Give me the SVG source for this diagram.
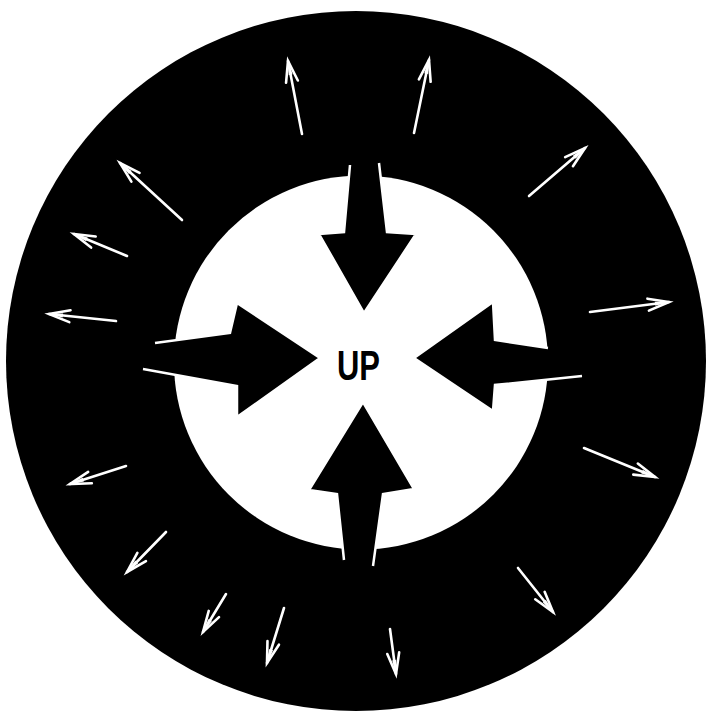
<svg xmlns="http://www.w3.org/2000/svg" width="712" height="713" viewBox="0 0 712 713">
<style>
.ring{fill:#000}
.hole{fill:#fff}
.big{fill:#000;stroke:#fff;stroke-width:2.5;stroke-linejoin:miter}
.small{stroke:#fff;stroke-width:2.6;stroke-linecap:round;fill:none;marker-end:url(#head)}
.label{font-family:"Liberation Sans",Arial,sans-serif;font-weight:bold;font-size:43px;fill:#000}
</style>
<defs>
<marker id="head" markerUnits="userSpaceOnUse" viewBox="-26 -13 30 26" markerWidth="30" markerHeight="26" refX="0" refY="0" orient="auto" overflow="visible">
<path d="M-21,-6 L0,0 L-21,6" fill="none" stroke="#fff" stroke-width="2.6" stroke-linejoin="miter" stroke-linecap="round"/>
<path d="M-14,-2 L0,0 L-14,2 Z" fill="#fff"/>
</marker>
</defs>
<rect width="712" height="713" fill="#fff"/>
<g id="disc">
<circle class="ring" cx="356" cy="361" r="350"/>
<circle class="hole" cx="361" cy="362.5" r="187"/>
</g>
<g id="connectors">
<path id="arrow-top" class="big" d="M350,165 L344,232 L319,234 L364,313 L416,234 L387,232 L379,163"/>
<path id="arrow-left" class="big" d="M155,343 L230,333 L237,303 L320,358 L237,417 L237,386 L143,369"/>
<path id="arrow-right" class="big" d="M548,348 L495,340 L493,302 L414,358 L493,411 L495,385 L582,376"/>
<path id="arrow-bottom" class="big" d="M344,560 L337,494 L309,490 L363,402 L414,489 L383,494 L373,566"/>
<line class="small" x1="302" y1="134" x2="288" y2="61"/>
<line class="small" x1="414" y1="133" x2="429" y2="60"/>
<line class="small" x1="529" y1="196" x2="585" y2="148"/>
<line class="small" x1="590" y1="312" x2="669" y2="302"/>
<line class="small" x1="584" y1="448" x2="655" y2="477"/>
<line class="small" x1="518" y1="568" x2="553" y2="612"/>
<line class="small" x1="390" y1="629" x2="396" y2="674"/>
<line class="small" x1="284" y1="608" x2="267" y2="663"/>
<line class="small" x1="226" y1="594" x2="203" y2="632"/>
<line class="small" x1="166" y1="532" x2="127" y2="572"/>
<line class="small" x1="126" y1="466" x2="70" y2="484"/>
<line class="small" x1="116" y1="321" x2="49" y2="314"/>
<line class="small" x1="127" y1="256" x2="74" y2="234"/>
<line class="small" x1="182" y1="220" x2="120" y2="163"/>
</g>
<g id="label-up">
<text class="label" x="337" y="380" textLength="43" lengthAdjust="spacingAndGlyphs">UP</text>
</g>
</svg>
